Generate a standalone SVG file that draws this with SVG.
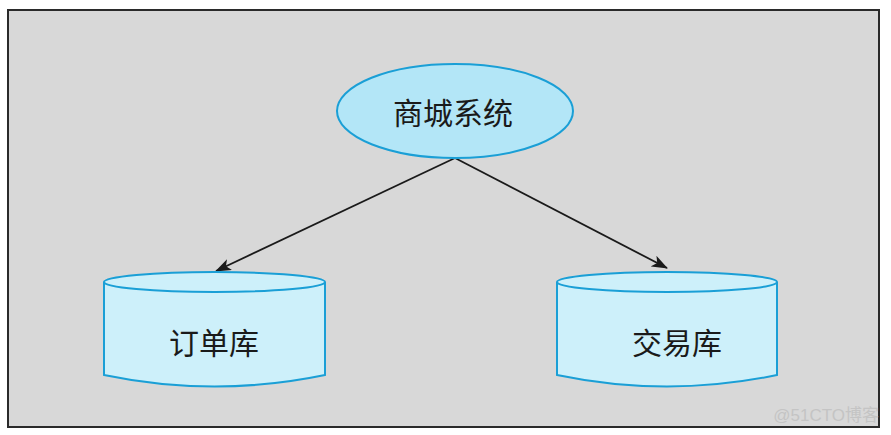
<svg xmlns="http://www.w3.org/2000/svg" width="891" height="435" viewBox="0 0 891 435">
<defs>
<style>
.frame{fill:#d8d8d8;stroke:#2a2a2a;stroke-width:2}
.ell{fill:#b3e6f7;stroke:#1a9fd6;stroke-width:2}
.cyl{fill:#cdf0fa;stroke:#1a9fd6;stroke-width:2}
.lbl{font-family:"Noto Sans CJK SC","Noto Sans",sans-serif;font-size:30px;fill:#1a1a1a;text-anchor:middle;dominant-baseline:central}
.edge{stroke:#1a1a1a;stroke-width:1.8;fill:none;marker-end:url(#arr)}
.wm{font-family:"Liberation Sans","Noto Sans CJK SC",sans-serif;font-size:17px;fill:#c4c4c4}
</style>
<marker id="arr" viewBox="0 0 16 12" refX="15" refY="6" markerWidth="16" markerHeight="12" markerUnits="userSpaceOnUse" orient="auto">
<path d="M0,0 L16,6 L0,12 L4,6 Z" fill="#1a1a1a"/>
</marker>
</defs>
<rect class="frame" x="8" y="10" width="871" height="417"/>
<g id="connectors">
<line class="edge" x1="455" y1="158" x2="216" y2="271"/>
<line class="edge" x1="455" y1="158" x2="667" y2="268"/>
</g>
<g id="mall">
<ellipse class="ell" cx="455" cy="111" rx="118" ry="47"/>
<text class="lbl" x="453" y="111">商城系统</text>
</g>
<g id="orderdb">
<path class="cyl" d="M104,282 L104,375 Q214.5,398 325,375 L325,282"/>
<ellipse class="cyl" cx="214.5" cy="282" rx="110.5" ry="10"/>
<text class="lbl" x="214" y="341">订单库</text>
</g>
<g id="tradedb">
<path class="cyl" d="M557,282 L557,375 Q667,398 777,375 L777,282"/>
<ellipse class="cyl" cx="667" cy="282" rx="110" ry="10"/>
<text class="lbl" x="677" y="341">交易库</text>
</g>
<text class="wm" x="879" y="421" text-anchor="end">@51CTO博客</text>
</svg>
